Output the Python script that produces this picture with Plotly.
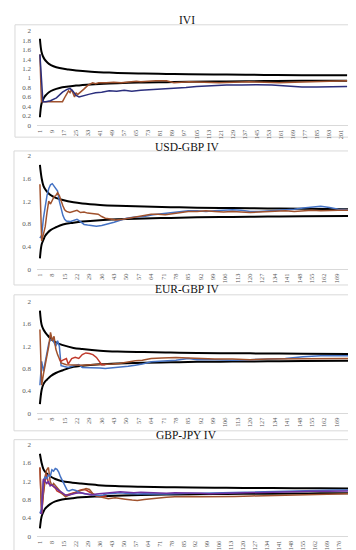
import plotly.graph_objects as go

# ---------------- data ----------------
titles = ["IVI", "USD-GBP IV", "EUR-GBP IV", "GBP-JPY IV"]

# Panel 1 : IVI
p1_ticks = list(range(1, 202, 8))
p1_bx = [1, 2, 3, 4, 5, 7, 10, 14, 20, 25, 35, 47, 60, 70, 85, 100, 125, 150, 175, 205]
p1_up = [1.83, 1.56, 1.46, 1.40, 1.36, 1.30, 1.25, 1.21, 1.18, 1.16, 1.135, 1.115, 1.10, 1.095, 1.087, 1.08, 1.072, 1.066, 1.06, 1.056]
p1_lo = [0.17, 0.45, 0.54, 0.60, 0.64, 0.70, 0.75, 0.79, 0.82, 0.84, 0.865, 0.885, 0.90, 0.905, 0.913, 0.92, 0.928, 0.935, 0.94, 0.944]
p1_navy_x = [1, 2, 3, 5, 8, 12, 16, 19, 21, 23, 25, 27, 30, 34, 38, 42, 47, 52, 57, 62, 68, 74, 80, 86, 92, 98, 105, 115, 125, 135, 145, 155, 165, 175, 185, 195, 205]
p1_navy_y = [1.5, 1.05, 0.5, 0.5, 0.52, 0.58, 0.70, 0.76, 0.78, 0.72, 0.63, 0.60, 0.62, 0.66, 0.69, 0.70, 0.73, 0.72, 0.74, 0.72, 0.74, 0.75, 0.77, 0.78, 0.79, 0.80, 0.82, 0.84, 0.85, 0.85, 0.86, 0.85, 0.83, 0.81, 0.81, 0.82, 0.82]
p1_brown_x = [1, 2, 3, 8, 12, 16, 18, 20, 21, 22, 24, 25, 26, 28, 30, 33, 36, 38, 40, 45, 50, 55, 60, 65, 68, 72, 78, 85, 90, 95, 100, 110, 120, 130, 140, 150, 160, 170, 180, 190, 200, 205]
p1_brown_y = [1.5, 0.5, 0.5, 0.5, 0.5, 0.5, 0.62, 0.73, 0.69, 0.76, 0.6, 0.69, 0.65, 0.7, 0.76, 0.85, 0.9, 0.88, 0.9, 0.9, 0.91, 0.9, 0.92, 0.93, 0.92, 0.93, 0.94, 0.94, 0.90, 0.91, 0.92, 0.91, 0.90, 0.91, 0.92, 0.91, 0.90, 0.91, 0.92, 0.93, 0.94, 0.94]

# Panel 2 : USD-GBP IV
p2_ticks = list(range(1, 170, 7))
p2_bx = [1, 2, 3, 4, 5, 7, 10, 14, 20, 25, 35, 45, 60, 75, 90, 110, 130, 150, 176]
p2_up = [1.84, 1.60, 1.47, 1.41, 1.37, 1.31, 1.26, 1.22, 1.18, 1.16, 1.135, 1.12, 1.105, 1.095, 1.085, 1.078, 1.072, 1.066, 1.06]
p2_lo = [0.19, 0.44, 0.52, 0.59, 0.63, 0.69, 0.74, 0.79, 0.82, 0.84, 0.865, 0.88, 0.895, 0.905, 0.915, 0.923, 0.93, 0.935, 0.94]
p2_blue_x = [1, 2, 3, 4, 5, 6, 7, 8, 9, 10, 11, 12, 13, 14, 15, 16, 18, 20, 22, 24, 26, 28, 30, 33, 36, 40, 43, 46, 50, 55, 60, 65, 70, 75, 80, 85, 90, 95, 100, 105, 110, 115, 120, 125, 130, 135, 140, 145, 150, 155, 160, 165, 170, 176]
p2_blue_y = [0.55, 0.6, 0.9, 1.15, 1.3, 1.42, 1.49, 1.51, 1.47, 1.42, 1.38, 1.2, 1.05, 0.95, 0.88, 0.85, 0.84, 0.86, 0.88, 0.84, 0.79, 0.78, 0.77, 0.76, 0.77, 0.8, 0.83, 0.86, 0.9, 0.92, 0.93, 0.96, 0.98, 1.0, 1.01, 1.03, 1.03, 1.02, 1.03, 1.04, 1.05, 1.04, 1.02, 1.02, 1.03, 1.04, 1.04, 1.06, 1.08, 1.1, 1.11, 1.09, 1.06, 1.05]
p2_brown_x = [1, 2, 3, 4, 5, 6, 7, 8, 9, 10, 11, 12, 13, 14, 15, 16, 18, 20, 22, 24, 26, 28, 30, 32, 34, 36, 38, 40, 44, 48, 52, 56, 60, 64, 68, 72, 76, 80, 85, 90, 95, 100, 105, 110, 115, 120, 125, 130, 135, 140, 145, 150, 155, 160, 165, 170, 176]
p2_brown_y = [1.5, 0.5, 0.62, 0.75, 1.0, 1.2, 1.15, 1.22, 1.28, 1.3, 1.35, 1.3, 1.2, 1.12, 1.05, 1.02, 1.0, 1.02, 1.04, 1.0, 1.01, 0.99, 0.98, 0.97, 0.97, 0.93, 0.9, 0.89, 0.87, 0.88, 0.9, 0.92, 0.94, 0.97, 0.97, 0.96, 0.98, 1.0, 1.02, 1.02, 1.03, 1.02, 1.01, 1.02, 1.01, 1.0, 1.01, 1.02, 1.02, 1.03, 1.02, 1.03, 1.04, 1.03, 1.04, 1.04, 1.04]

# Panel 3 : EUR-GBP IV
p3_ticks = list(range(1, 170, 7))
p3_bx = [1, 2, 3, 4, 5, 7, 10, 14, 20, 25, 35, 45, 60, 75, 90, 110, 130, 150, 176]
p3_up = [1.84, 1.58, 1.50, 1.45, 1.41, 1.34, 1.27, 1.22, 1.17, 1.15, 1.12, 1.105, 1.095, 1.087, 1.08, 1.075, 1.07, 1.065, 1.06]
p3_lo = [0.16, 0.42, 0.52, 0.57, 0.60, 0.66, 0.72, 0.77, 0.83, 0.85, 0.875, 0.89, 0.905, 0.912, 0.92, 0.925, 0.93, 0.935, 0.94]
p3_blue_x = [1, 2, 3, 4, 5, 6, 7, 8, 9, 10, 11, 12, 13, 15, 17, 19, 21, 23, 25, 28, 31, 35, 38, 42, 46, 51, 55, 59, 64, 72, 78, 85, 90, 100, 110, 120, 130, 140, 150, 160, 170, 176]
p3_blue_y = [0.5, 0.93, 0.75, 0.9, 1.1, 1.25, 1.32, 1.34, 1.27, 1.2, 1.3, 1.2, 0.85, 0.84, 0.82, 0.84, 0.86, 0.87, 0.82, 0.82, 0.81, 0.81, 0.8, 0.81, 0.83, 0.84, 0.86, 0.88, 0.92, 0.93, 0.95, 0.98, 0.96, 0.96, 0.95, 0.96, 0.97, 0.98, 1.01, 1.03, 1.03, 1.03]
p3_brown_x = [1, 2, 3, 4, 5, 6, 7, 8, 9, 10, 11, 12, 13, 16, 20, 25, 30, 36, 38, 42, 46, 51, 55, 59, 64, 70, 78, 85, 90, 100, 110, 120, 130, 140, 150, 160, 170, 176]
p3_brown_y = [1.5, 0.5, 0.7, 0.85, 1.0, 1.2, 1.45, 1.3, 1.38, 1.15, 1.05, 0.98, 0.9, 0.87, 0.86, 0.86, 0.87, 0.87, 0.87, 0.88, 0.89, 0.92, 0.94, 0.95, 0.98, 0.99, 1.0, 0.99, 0.98, 0.97, 0.97, 0.96, 0.97, 0.97, 0.97, 0.98, 0.98, 0.98]
p3_red_x = [12, 13, 14, 16, 17, 19, 21, 23, 25, 27, 29, 31, 33, 34, 36, 38]
p3_red_y = [0.98, 0.93, 0.95, 0.98, 0.88, 0.98, 1.0, 0.98, 1.05, 1.08, 1.07, 1.05, 1.0, 0.96, 0.87, 0.87]

# Panel 4 : GBP-JPY IV
p4_ticks = list(range(1, 177, 7))
p4_bx = [1, 2, 3, 4, 5, 7, 10, 14, 20, 25, 35, 45, 60, 75, 90, 110, 130, 150, 165, 183]
p4_up = [1.80, 1.60, 1.47, 1.41, 1.37, 1.31, 1.25, 1.20, 1.17, 1.15, 1.115, 1.095, 1.08, 1.07, 1.062, 1.057, 1.052, 1.048, 1.045, 1.042]
p4_lo = [0.17, 0.43, 0.53, 0.60, 0.64, 0.70, 0.76, 0.80, 0.83, 0.85, 0.87, 0.885, 0.90, 0.91, 0.915, 0.922, 0.928, 0.933, 0.937, 0.94]
p4_blue_x = [1, 2, 3, 4, 5, 6, 7, 8, 9, 10, 11, 12, 13, 14, 15, 16, 17, 18, 20, 22, 24, 27, 30, 33, 36, 38, 41, 45, 48, 51, 55, 58, 62, 66, 70, 75, 80, 88, 95, 105, 115, 125, 135, 145, 155, 165, 175, 183]
p4_blue_y = [0.5, 0.6, 1.2, 1.3, 1.25, 1.35, 1.3, 1.45, 1.42, 1.48, 1.46, 1.4, 1.3, 1.23, 1.15, 1.06, 1.0, 0.99, 1.02, 1.0, 0.96, 0.93, 0.92, 0.9, 0.89, 0.9, 0.93, 0.94, 0.95, 0.94, 0.93, 0.92, 0.93, 0.92, 0.92, 0.92, 0.93, 0.94, 0.94, 0.95, 0.96, 0.96, 0.97, 0.98, 0.99, 1.0, 1.01, 1.01]
p4_purple_x = [1, 2, 3, 4, 5, 6, 7, 8, 10, 12, 14, 16, 18, 20, 22, 25, 28, 31, 34, 37, 40, 44, 48, 52, 56, 60, 65, 70, 75, 80, 88, 95, 100, 110, 120, 130, 140, 150, 160, 170, 183]
p4_purple_y = [0.5, 0.5, 1.25, 1.2, 1.15, 1.2, 1.1, 1.12, 1.05, 1.0, 0.95, 0.9, 0.9, 0.92, 0.94, 0.95, 0.93, 0.9, 0.92, 0.93, 0.95, 0.96, 0.97, 0.96, 0.95, 0.96, 0.95, 0.94, 0.94, 0.95, 0.95, 0.94, 0.93, 0.94, 0.95, 0.95, 0.96, 0.97, 0.98, 0.98, 0.99]
p4_brown_x = [1, 2, 3, 4, 5, 6, 7, 8, 9, 10, 12, 14, 16, 18, 20, 22, 25, 28, 30, 32, 35, 38, 41, 45, 48, 51, 55, 58, 62, 66, 70, 75, 80, 88, 95, 105, 115, 125, 135, 145, 155, 165, 175, 183]
p4_brown_y = [1.5, 0.5, 0.95, 1.3, 1.45, 1.5, 1.2, 1.1, 1.15, 1.1, 1.02, 0.93, 0.86, 0.9, 0.93, 0.96, 0.99, 1.04, 1.02, 0.93, 0.87, 0.85, 0.82, 0.84, 0.83, 0.81, 0.79, 0.78, 0.8, 0.82, 0.84, 0.85, 0.86, 0.87, 0.86, 0.86, 0.87, 0.88, 0.89, 0.9, 0.91, 0.92, 0.92, 0.93]
p4_red_x = [1, 2, 3, 4, 5, 6, 7, 8, 9, 10, 11, 13, 14, 16, 18, 20, 22, 24, 26, 28, 30, 32, 34, 36, 40]
p4_red_y = [1.5, 0.5, 0.9, 1.2, 1.35, 1.15, 1.13, 1.12, 1.08, 1.05, 0.99, 0.95, 0.93, 0.89, 0.92, 0.94, 0.96, 1.0, 1.02, 1.01, 0.97, 0.92, 0.88, 0.87, 0.88]

# ---------------- styling / layout ----------------
W, H = 356, 550
BLACK = "#000000"
NAVY = "#2B2F7E"
BLUE = "#4472C4"
BROWN = "#A0522D"
RED = "#C0392B"
PURPLE = "#7030A0"
SERIF = "Liberation Serif"

def fx(px):
    return px / W

def fy(py):
    return 1 - py / H

panels = [
    dict(ticks=p1_ticks, step=0.2, unit=1.51, ytop=19, ybot=115, bx=p1_bx, up=p1_up, lo=p1_lo,
         series=[(p1_brown_x, p1_brown_y, BROWN), (p1_navy_x, p1_navy_y, NAVY)],
         title_y=8, box=(6, 13, 349, 127)),
    dict(ticks=p2_ticks, step=0.4, unit=1.771, ytop=146, ybot=261, bx=p2_bx, up=p2_up, lo=p2_lo,
         series=[(p2_blue_x, p2_blue_y, BLUE), (p2_brown_x, p2_brown_y, BROWN)],
         title_y=137, box=(5, 141, 350, 277)),
    dict(ticks=p3_ticks, step=0.4, unit=1.771, ytop=294, ybot=407, bx=p3_bx, up=p3_up, lo=p3_lo,
         series=[(p3_blue_x, p3_blue_y, BLUE), (p3_brown_x, p3_brown_y, BROWN), (p3_red_x, p3_red_y, RED)],
         title_y=281, box=(5, 287, 350, 425)),
    dict(ticks=p4_ticks, step=0.4, unit=1.714, ytop=439, ybot=532, bx=p4_bx, up=p4_up, lo=p4_lo,
         series=[(p4_red_x, p4_red_y, RED), (p4_brown_x, p4_brown_y, BROWN),
                 (p4_blue_x, p4_blue_y, BLUE), (p4_purple_x, p4_purple_y, PURPLE)],
         title_y=429, box=(5, 434, 352, 552)),
]

fig = go.Figure()
layout = dict(width=W, height=H, margin=dict(l=0, r=0, t=0, b=0),
              paper_bgcolor="white", plot_bgcolor="white", showlegend=False,
              shapes=[], annotations=[])

PL, PR = 28, 343
for i, p in enumerate(panels):
    k = "" if i == 0 else str(i + 1)
    xa, ya = "x" + k, "y" + k
    lo_r = 1 - (31 - PL) / p["unit"]
    hi_r = lo_r + (PR - PL) / p["unit"]
    nt = int(round(2 / p["step"]))
    yvals = [round(j * p["step"], 1) for j in range(nt + 1)]
    ytext = [("%g" % v) for v in yvals]
    layout["xaxis" + k] = dict(domain=[fx(PL), fx(PR)], range=[lo_r, hi_r], anchor=ya,
                               tickmode="array", tickvals=p["ticks"], ticktext=[str(t) for t in p["ticks"]],
                               tickangle=-90, tickfont=dict(family=SERIF, size=6.3, color="#595959"),
                               showgrid=False, zeroline=False, showline=True, linecolor="#D9D9D9",
                               linewidth=1, ticks="", ticklabelstandoff=1)
    layout["yaxis" + k] = dict(domain=[fy(p["ybot"]), fy(p["ytop"])], range=[0, 2], anchor=xa,
                               tickmode="array", tickvals=yvals, ticktext=ytext,
                               tickfont=dict(family=SERIF, size=7, color="#595959"),
                               showgrid=False, zeroline=False, showline=False, ticks="",
                               ticklabelstandoff=5)
    fig.add_trace(go.Scatter(x=p["bx"], y=p["up"], mode="lines", line=dict(color=BLACK, width=2),
                             xaxis=xa, yaxis=ya, line_shape="spline"))
    fig.add_trace(go.Scatter(x=p["bx"], y=p["lo"], mode="lines", line=dict(color=BLACK, width=2),
                             xaxis=xa, yaxis=ya, line_shape="spline"))
    for sx, sy, col in p["series"]:
        fig.add_trace(go.Scatter(x=sx, y=sy, mode="lines", line=dict(color=col, width=1.5),
                                 xaxis=xa, yaxis=ya))
    x0, y0, x1, y1 = p["box"]
    layout["shapes"].append(dict(type="rect", xref="paper", yref="paper",
                                 x0=fx(x0), x1=fx(x1), y0=fy(y1), y1=fy(y0),
                                 line=dict(color="#D9D9D9", width=1), layer="below"))
    layout["annotations"].append(dict(text=titles[i], xref="paper", yref="paper",
                                      x=fx(178), y=fy(p["title_y"]), xanchor="center", yanchor="middle",
                                      showarrow=False, font=dict(family=SERIF, size=11.5, color="#111111")))

fig.update_layout(**layout)
fig.write_html("out.html")
